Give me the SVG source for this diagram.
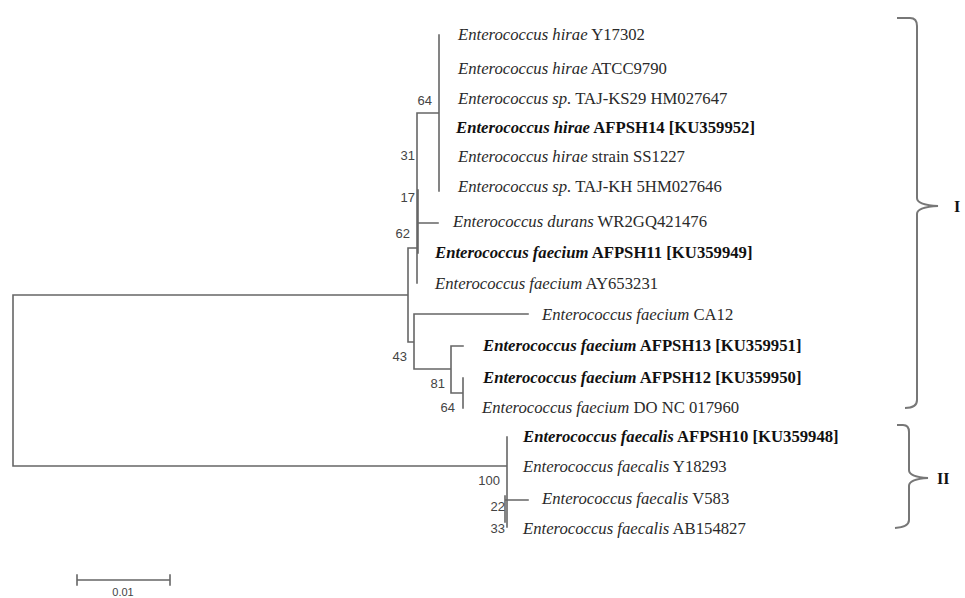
<svg xmlns="http://www.w3.org/2000/svg" width="965" height="598" viewBox="0 0 965 598">
<style>
.ln{stroke:#666;stroke-width:1.6;fill:none;stroke-linecap:square}
.br{stroke:#777;stroke-width:2;fill:none}
.lf{font-family:"Liberation Serif","Times New Roman",serif;font-size:16.7px;fill:#2a2a2a}
.b{font-weight:bold;fill:#111}
.bs{font-family:"Liberation Sans",Arial,sans-serif;font-size:13px;fill:#444;text-anchor:end}
.cl{font-family:"Liberation Serif","Times New Roman",serif;font-size:16px;font-weight:bold;fill:#111}
</style>
<rect width="965" height="598" fill="#fff"/>
<g id="connectors">
<path class="ln" d="M439,35V191M417,113H439M417,113V283M418,190V253M417,223H438M408,248H417M408,248V342M13,295H408M408,342H414M414,314V369M414,314H528M414,369H451M451,346V393M451,346H463M451,393H463M463,378V408M13,295V466M13,466H507M507,437V527M505,496V522M505,500H528"/>
</g>
<g id="bootstrap">
<text class="bs" x="432" y="105">64</text>
<text class="bs" x="415" y="160">31</text>
<text class="bs" x="415" y="202">17</text>
<text class="bs" x="410" y="238">62</text>
<text class="bs" x="407" y="361">43</text>
<text class="bs" x="445" y="388">81</text>
<text class="bs" x="455" y="412">64</text>
<text class="bs" x="500" y="485">100</text>
<text class="bs" x="505" y="511">22</text>
<text class="bs" x="505" y="533">33</text>
</g>
<g id="leaf1"><text class="lf" x="458" y="40"><tspan font-style="italic">Enterococcus hirae</tspan> Y17302</text></g>
<g id="leaf2"><text class="lf" x="458" y="74"><tspan font-style="italic">Enterococcus hirae</tspan> ATCC9790</text></g>
<g id="leaf3"><text class="lf" x="458" y="104"><tspan font-style="italic">Enterococcus sp.</tspan> TAJ-KS29 HM027647</text></g>
<g id="leaf4"><text class="lf b" x="456" y="133"><tspan font-style="italic">Enterococcus hirae</tspan> AFPSH14 [KU359952]</text></g>
<g id="leaf5"><text class="lf" x="458" y="162"><tspan font-style="italic">Enterococcus hirae</tspan> strain SS1227</text></g>
<g id="leaf6"><text class="lf" x="458" y="192"><tspan font-style="italic">Enterococcus sp.</tspan> TAJ-KH 5HM027646</text></g>
<g id="leaf7"><text class="lf" x="453" y="227"><tspan font-style="italic">Enterococcus durans</tspan> WR2GQ421476</text></g>
<g id="leaf8"><text class="lf b" x="435" y="258"><tspan font-style="italic">Enterococcus faecium</tspan> AFPSH11 [KU359949]</text></g>
<g id="leaf9"><text class="lf" x="435" y="289"><tspan font-style="italic">Enterococcus faecium</tspan> AY653231</text></g>
<g id="leaf10"><text class="lf" x="542" y="320"><tspan font-style="italic">Enterococcus faecium</tspan> CA12</text></g>
<g id="leaf11"><text class="lf b" x="483" y="351"><tspan font-style="italic">Enterococcus faecium</tspan> AFPSH13 [KU359951]</text></g>
<g id="leaf12"><text class="lf b" x="483" y="383"><tspan font-style="italic">Enterococcus faecium</tspan> AFPSH12 [KU359950]</text></g>
<g id="leaf13"><text class="lf" x="482" y="413"><tspan font-style="italic">Enterococcus faecium</tspan> DO NC 017960</text></g>
<g id="leaf14"><text class="lf b" x="523" y="442"><tspan font-style="italic">Enterococcus faecalis</tspan> AFPSH10 [KU359948]</text></g>
<g id="leaf15"><text class="lf" x="523" y="472"><tspan font-style="italic">Enterococcus faecalis</tspan> Y18293</text></g>
<g id="leaf16"><text class="lf" x="542" y="504"><tspan font-style="italic">Enterococcus faecalis</tspan> V583</text></g>
<g id="leaf17"><text class="lf" x="523" y="534"><tspan font-style="italic">Enterococcus faecalis</tspan> AB154827</text></g>
<g id="cladeI">
<path class="br" d="M897,18H910Q917,18 917,26V198Q917,205 938,206Q917,207 917,214V400Q917,408 905,408"/>
<text class="cl" x="954" y="212">I</text>
</g>
<g id="cladeII">
<path class="br" d="M897,425H903Q909,425 909,432V470Q909,477 928,478Q909,479 909,486V520Q909,527 895,528"/>
<text class="cl" x="937" y="484">II</text>
</g>
<g id="scale">
<path class="ln" d="M77,580H170M77,575V585M170,575V585"/>
<text font-family="Liberation Sans,Arial,sans-serif" font-size="11" fill="#444" x="123" y="596" text-anchor="middle">0.01</text>
</g>
</svg>
